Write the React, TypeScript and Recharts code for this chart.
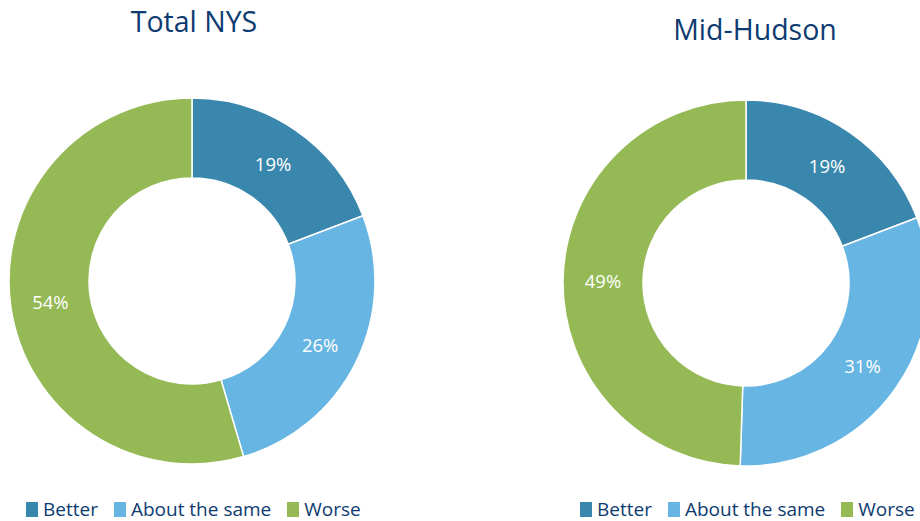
import React from "react";
import { PieChart, Pie, Cell, Legend } from "recharts";

const categories = ["Better", "About the same", "Worse"];
const totalNys = [19, 26, 54];
const midHudson = [19, 31, 49];

const COLORS = ["#3a87ad", "#67b5e3", "#94b955"];
const NAVY = "#0d3b70";
const FONT = "'Open Sans', 'Noto Sans', sans-serif";
const RAD = Math.PI / 180;

const toRows = (values: number[]) =>
    categories.map((name, i) => ({ name, value: values[i] }));

const renderLabel = (props: any) => {
    const { cx, cy, midAngle, innerRadius, outerRadius, value } = props;
    const r = (innerRadius + outerRadius) / 2;
    const x = cx + r * Math.cos(-midAngle * RAD);
    const y = cy + r * Math.sin(-midAngle * RAD);
    return (
        <text
            x={x}
            y={y}
            fill="#fff"
            fontSize={18.5}
            fontFamily={FONT}
            textAnchor="middle"
            dominantBaseline="central"
        >
            {`${value}%`}
        </text>
    );
};

const renderLegend = () => (
    <div style={{ display: "flex", fontFamily: FONT, fontSize: 19, color: NAVY }}>
        {categories.map((name, i) => (
            <div key={name} style={{ display: "flex", alignItems: "center", marginRight: 16 }}>
                <span
                    style={{
                        display: "inline-block",
                        width: 12,
                        height: 15,
                        background: COLORS[i],
                        marginRight: 5,
                    }}
                />
                <span>{name}</span>
            </div>
        ))}
    </div>
);

interface DonutProps {
    title: string;
    values: number[];
    cx: number;
    cy: number;
    titleX: number;
    titleY: number;
    legendLeft: number;
    left: number;
}

const Donut = ({ title, values, cx, cy, titleX, titleY, legendLeft, left }: DonutProps) => {
    const data = toRows(values);
    return (
        <div style={{ position: "absolute", left, top: 0 }}>
            <PieChart width={460} height={521} margin={{ top: 0, right: 0, bottom: 0, left: 0 }}>
                <text
                    x={titleX}
                    y={titleY}
                    textAnchor="middle"
                    fill={NAVY}
                    fontSize={28.5}
                    fontFamily={FONT}
                >
                    {title}
                </text>
                <Pie
                    data={data}
                    dataKey="value"
                    nameKey="name"
                    cx={cx}
                    cy={cy}
                    innerRadius={103}
                    outerRadius={183}
                    startAngle={90}
                    endAngle={-270}
                    stroke="#fff"
                    strokeWidth={1.5}
                    label={renderLabel}
                    labelLine={false}
                    isAnimationActive={false}
                >
                    {data.map((_, index) => (
                        <Cell key={`cell-${index}`} fill={COLORS[index]} />
                    ))}
                </Pie>
                <Legend
                    content={renderLegend}
                    wrapperStyle={{ position: "absolute", left: legendLeft, top: 496, width: 420 }}
                />
            </PieChart>
        </div>
    );
};

export default function App() {
    return (
        <div
            style={{
                position: "absolute",
                left: 0,
                top: 0,
                width: 920,
                height: 521,
                overflow: "hidden",
                background: "#fff",
            }}
        >
            <Donut
                title="Total NYS"
                values={totalNys}
                cx={192}
                cy={281}
                titleX={194}
                titleY={32}
                legendLeft={26}
                left={0}
            />
            <Donut
                title="Mid-Hudson"
                values={midHudson}
                cx={286}
                cy={283}
                titleX={295}
                titleY={40}
                legendLeft={120}
                left={460}
            />
        </div>
    );
}
